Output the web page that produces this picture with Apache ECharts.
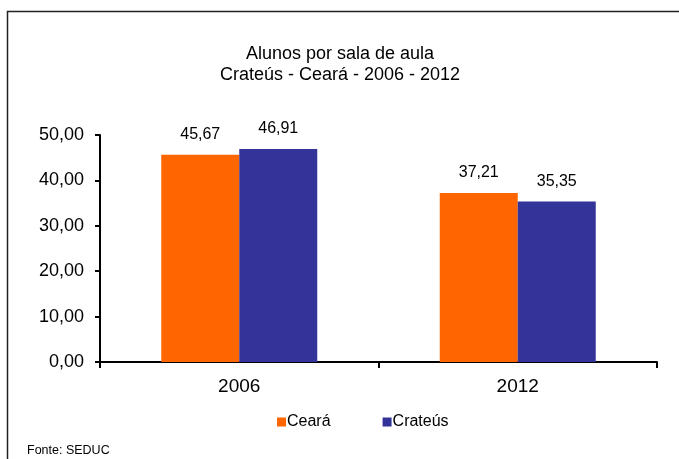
<!DOCTYPE html>
<html><head><meta charset="utf-8">
<script src="https://cdn.jsdelivr.net/npm/echarts@6/dist/echarts.min.js"></script>
<style>html,body{margin:0;padding:0;background:#fff}#c{width:679px;height:459px}</style>
</head><body><div id="c"></div>
<script>
const categories = ['2006', '2012'];
const ceara = [45.67, 37.21];
const crateus = [46.91, 35.35];
const yTicks = [0, 10, 20, 30, 40, 50];
const fmt = v => Number(v).toFixed(2).replace('.', ',');
const font = 'Liberation Sans';
const chart = echarts.init(document.getElementById('c'), null, {renderer: 'canvas'});
chart.setOption({
  animation: false,
  backgroundColor: '#fff',
  textStyle: {fontFamily: font},
  title: {
    text: 'Alunos por sala de aula\nCrateús - Ceará - 2006 - 2012',
    left: 340, top: 44, textAlign: 'center', padding: 0,
    textStyle: {fontFamily: font, fontSize: 18, fontWeight: 'normal', color: '#000', lineHeight: 21}
  },
  graphic: [
    {type: 'rect', shape: {x: 7.5, y: 11.5, width: 800, height: 600}, style: {fill: 'none', stroke: '#222', lineWidth: 1.5}, z: -1},
    {type: 'text', left: 27, top: 444, style: {text: 'Fonte: SEDUC', font: '12.5px "Liberation Sans"', fill: '#000'}}
  ],
  legend: {
    data: ['Ceará', 'Crateús'],
    left: 277, top: 414, padding: 0, itemWidth: 9, itemHeight: 9, itemGap: 52,
    icon: 'rect', textStyle: {fontFamily: font, fontSize: 16, color: '#000', padding: [0,0,0,-4]}
  },
  grid: {left: 100, right: 22, top: 135, bottom: 97, containLabel: false},
  xAxis: {
    type: 'category', data: categories,
    axisLine: {lineStyle: {color: '#000', width: 2}},
    axisTick: {show: true, alignWithLabel: false, length: 6, lineStyle: {color: '#000', width: 2}},
    axisLabel: {fontFamily: font, fontSize: 19, color: '#000', margin: 15}
  },
  yAxis: {
    type: 'value', min: yTicks[0], max: yTicks[yTicks.length - 1], interval: 10,
    axisLine: {show: true, lineStyle: {color: '#000', width: 2}},
    axisTick: {show: true, length: 5, lineStyle: {color: '#000', width: 2}},
    splitLine: {show: false},
    axisLabel: {fontFamily: font, fontSize: 18, color: '#000', margin: 16, formatter: v => fmt(v)}
  },
  series: [
    {name: 'Ceará', type: 'bar', data: ceara, barWidth: 78, barGap: '0%',
     itemStyle: {color: '#FF6600'},
     label: {show: true, position: 'top', distance: 12, fontFamily: font, fontSize: 16, color: '#000', formatter: p => fmt(p.value)}},
    {name: 'Crateús', type: 'bar', data: crateus, barWidth: 78, barGap: '0%',
     itemStyle: {color: '#333399'},
     label: {show: true, position: 'top', distance: 12, fontFamily: font, fontSize: 16, color: '#000', formatter: p => fmt(p.value)}}
  ]
});
</script></body></html>
